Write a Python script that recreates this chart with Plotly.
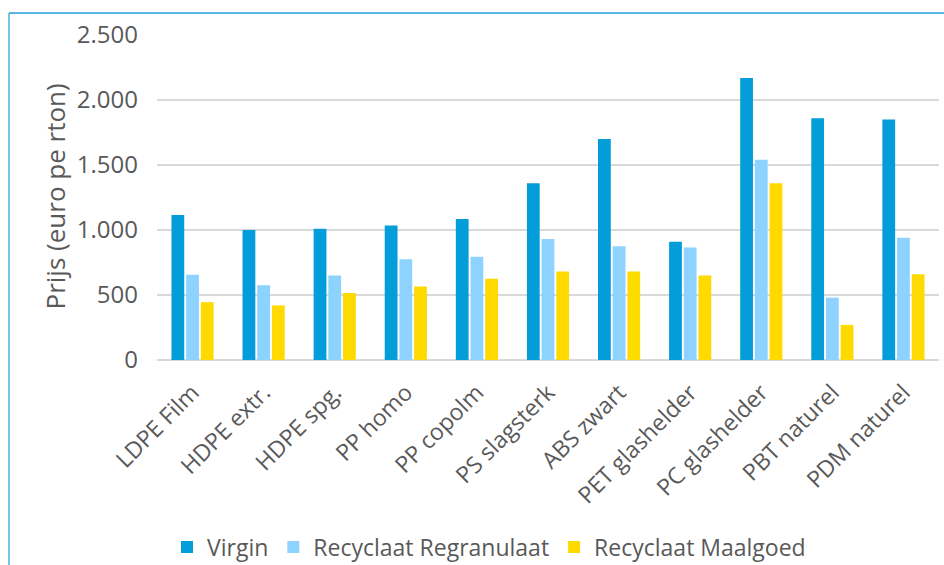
import plotly.graph_objects as go

categories = ["LDPE Film", "HDPE extr.", "HDPE spg.", "PP homo", "PP copolm",
              "PS slagsterk", "ABS zwart", "PET glashelder", "PC glashelder",
              "PBT naturel", "PDM naturel"]
virgin = [1115, 1000, 1010, 1035, 1085, 1360, 1700, 910, 2170, 1860, 1850]
regranulaat = [655, 575, 650, 775, 795, 930, 875, 865, 1540, 480, 940]
maalgoed = [445, 420, 515, 565, 625, 680, 680, 650, 1360, 270, 660]
series_names = ["Virgin", "Recyclaat Regranulaat", "Recyclaat Maalgoed"]
y_ticks = [0, 500, 1000, 1500, 2000, 2500]
y_title = "Prijs (euro pe rton)"

colors = ["#039dd9", "#8ed2ff", "#ffda00"]
FONT = "Open Sans, Liberation Sans, Arial, sans-serif"
TXT = "#595959"

fig = go.Figure()
for name, vals, col in zip(series_names, [virgin, regranulaat, maalgoed], colors):
    fig.add_trace(go.Bar(x=categories, y=vals, name=name,
                         marker=dict(color=col, line=dict(width=0))))

W, H = 944, 565
L, R, T, B = 157, 5, 35, 205
pw, ph = W - L - R, H - T - B

def px(x):
    return (x - L) / pw

def py(y):
    return (H - B - y) / ph

fig.update_layout(
    width=W, height=H,
    margin=dict(l=L, r=R, t=T, b=B, pad=0, autoexpand=False),
    paper_bgcolor="white", plot_bgcolor="white",
    separators=",.",
    barmode="group", bargap=0.38, bargroupgap=0.13,
    font=dict(family=FONT, size=23, color=TXT),
    xaxis=dict(tickangle=-45, tickfont=dict(size=23, color=TXT),
               showgrid=False, showline=False, zeroline=False,
               ticks="outside", ticklen=9, tickcolor="rgba(0,0,0,0)",
               automargin=False),
    yaxis=dict(range=[0, 2500], tickvals=y_ticks, tickformat=",d",
               tickfont=dict(size=24, color=TXT), ticklabelstandoff=18,
               showgrid=True, gridcolor="#d9d9d9", gridwidth=1.5,
               zeroline=True, zerolinecolor="#d9d9d9", zerolinewidth=1.5,
               showline=False, ticks="", automargin=False),
    legend=dict(orientation="h", x=px(489), xanchor="center", y=py(547), yanchor="middle",
                font=dict(size=23, color=TXT), itemwidth=30, bgcolor="rgba(0,0,0,0)"),
    annotations=[dict(text=y_title, textangle=-90, xref="paper", yref="paper",
                      x=px(54), y=py(196.5), xanchor="center", yanchor="middle",
                      showarrow=False, font=dict(size=26, color=TXT))],
    shapes=[
        dict(type="line", xref="paper", yref="paper", x0=px(9), x1=px(944), y0=py(13), y1=py(13),
             line=dict(color="#1f9fd8", width=1.5)),
        dict(type="line", xref="paper", yref="paper", x0=px(9), x1=px(9), y0=py(13), y1=py(566),
             line=dict(color="#1f9fd8", width=1.2)),
    ],
)

fig.write_html("out.html", config={"displayModeBar": False},
               post_script="document.body.style.margin='0';")
